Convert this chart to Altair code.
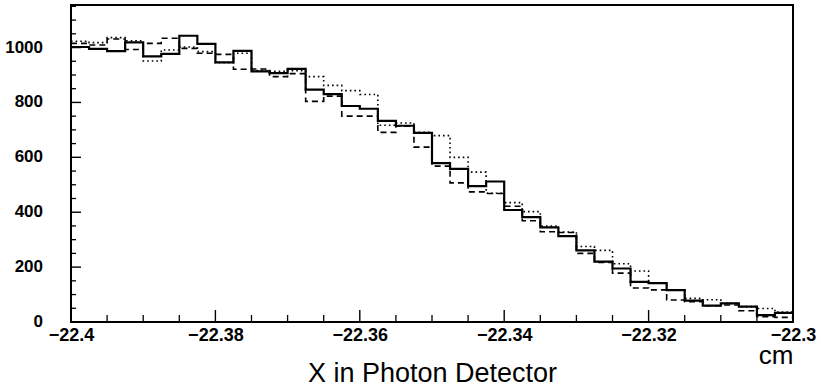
import altair as alt
import numpy as np
import pandas as pd

# ---- data ----
X_MIN, X_MAX, N_BINS = -22.4, -22.3, 40
Y_MAX = 1155

solid = [1002, 995, 987, 1019, 968, 977, 1043, 1013, 946, 988,
         913, 907, 922, 847, 830, 787, 777, 733, 715, 689,
         579, 558, 495, 512, 408, 382, 345, 313, 261, 220,
         195, 146, 142, 116, 78, 60, 68, 56, 25, 33]
dashed = [1015, 1009, 1031, 993, 1015, 1034, 997, 979, 975, 921,
          922, 894, 905, 804, 823, 750, 750, 691, 713, 637,
          568, 507, 474, 468, 422, 369, 329, 326, 250, 217,
          178, 124, 117, 80, 74, 59, 62, 41, 19, 17]
dotted = [1023, 1018, 1036, 1025, 951, 991, 1002, 985, 945, 979,
          916, 913, 916, 894, 862, 843, 829, 717, 725, 691,
          679, 600, 546, 469, 435, 402, 350, 328, 275, 261,
          212, 186, 142, 117, 86, 81, 68, 56, 49, 36]

x_major = [-22.4, -22.38, -22.36, -22.34, -22.32, -22.3]
x_minor = [-22.395, -22.39, -22.385, -22.375, -22.37, -22.365,
           -22.355, -22.35, -22.345, -22.335, -22.33, -22.325,
           -22.315, -22.31, -22.305]
y_major = [0, 200, 400, 600, 800, 1000]
y_labels = ["0", "200", "400", "600", "800", "1000"]
y_minor = [50, 100, 150, 250, 300, 350, 450, 500, 550, 650, 700, 750,
           850, 900, 950, 1050, 1100, 1150]

edges = np.linspace(X_MIN, X_MAX, N_BINS + 1)


def steps(vals):
    return pd.DataFrame({"x": list(edges), "y": list(vals) + [vals[-1]]})


W, H = 722, 317
FONT = "Liberation Sans"
xscale = alt.Scale(domain=[X_MIN, X_MAX], nice=False, zero=False)
yscale = alt.Scale(domain=[0, Y_MAX], nice=False, zero=False)

main_x = alt.Axis(values=x_major, format=".2~f", orient="bottom", ticks=False,
                  domain=False, grid=False, labelFont=FONT, labelFontSize=18,
                  labelFontWeight="bold", labelColor="black", labelPadding=4,
                  labelFlush=False, labelOverlap=False,
                  title="X in Photon Detector", titleFont=FONT, titleFontSize=27,
                  titleFontWeight="normal", titleColor="black", titleY=59,
                  titleBaseline="alphabetic")
cm_axis = alt.Axis(orient="top", offset=-H, labels=False, ticks=False,
                   domain=False, grid=False, title="cm", titleFont=FONT,
                   titleFontSize=26, titleFontWeight="normal", titleColor="black",
                   titleX=W, titleY=41, titleAlign="right",
                   titleBaseline="alphabetic")

# inward tick marks through the shared scales
xmaj = alt.Chart(pd.DataFrame({"v": x_major})).mark_tick(
    color="black", thickness=1.4, size=12, orient="vertical", opacity=1
).encode(x=alt.X("v:Q", scale=xscale, axis=None), y=alt.value(H - 6))
xmin = alt.Chart(pd.DataFrame({"v": x_minor})).mark_tick(
    color="black", thickness=1.3, size=7, orient="vertical", opacity=1
).encode(x=alt.X("v:Q", scale=xscale, axis=None), y=alt.value(H - 3.5))
ymaj = alt.Chart(pd.DataFrame({"v": y_major})).mark_tick(
    color="black", thickness=1.4, size=10, orient="horizontal", opacity=1
).encode(y=alt.Y("v:Q", scale=yscale, axis=None), x=alt.value(5))
ymin = alt.Chart(pd.DataFrame({"v": y_minor})).mark_tick(
    color="black", thickness=1.3, size=5, orient="horizontal", opacity=1
).encode(y=alt.Y("v:Q", scale=yscale, axis=None), x=alt.value(2.5))

ylab = alt.Chart(pd.DataFrame({"v": y_major, "t": y_labels})).mark_text(
    align="right", baseline="middle", font=FONT, fontSize=17, fontWeight="bold",
    color="black"
).encode(y=alt.Y("v:Q", scale=yscale, axis=None), x=alt.value(-28), text="t:N")

solid_chart = alt.Chart(steps(solid)).mark_line(
    interpolate="step-after", color="black", strokeWidth=2.2
).encode(
    x=alt.X("x:Q", scale=xscale, axis=main_x),
    y=alt.Y("y:Q", scale=yscale, axis=None),
)

dashed_chart = alt.Chart(steps(dashed)).mark_line(
    interpolate="step-after", color="black", strokeWidth=1.6, strokeDash=[6, 4]
).encode(
    x=alt.X("x:Q", scale=xscale, axis=None),
    y=alt.Y("y:Q", scale=yscale, axis=None),
)

dotted_chart = alt.Chart(steps(dotted)).mark_line(
    interpolate="step-after", color="black", strokeWidth=1.6, strokeDash=[1.6, 3]
).encode(
    x=alt.X("x:Q", scale=xscale, axis=cm_axis),
    y=alt.Y("y:Q", scale=yscale, axis=None),
)

chart = alt.layer(xmaj, xmin, ymaj, ymin, ylab, solid_chart, dashed_chart, dotted_chart).resolve_axis(
    x="independent", y="independent"
).properties(
    width=W, height=H,
    autosize=alt.AutoSizeParams(type="none"),
    padding={"left": 71, "top": 5, "right": 28, "bottom": 66},
    background="white",
).configure_view(stroke="black", strokeWidth=2)

chart.save("out.html", embed_options={"renderer": "svg", "actions": False})
